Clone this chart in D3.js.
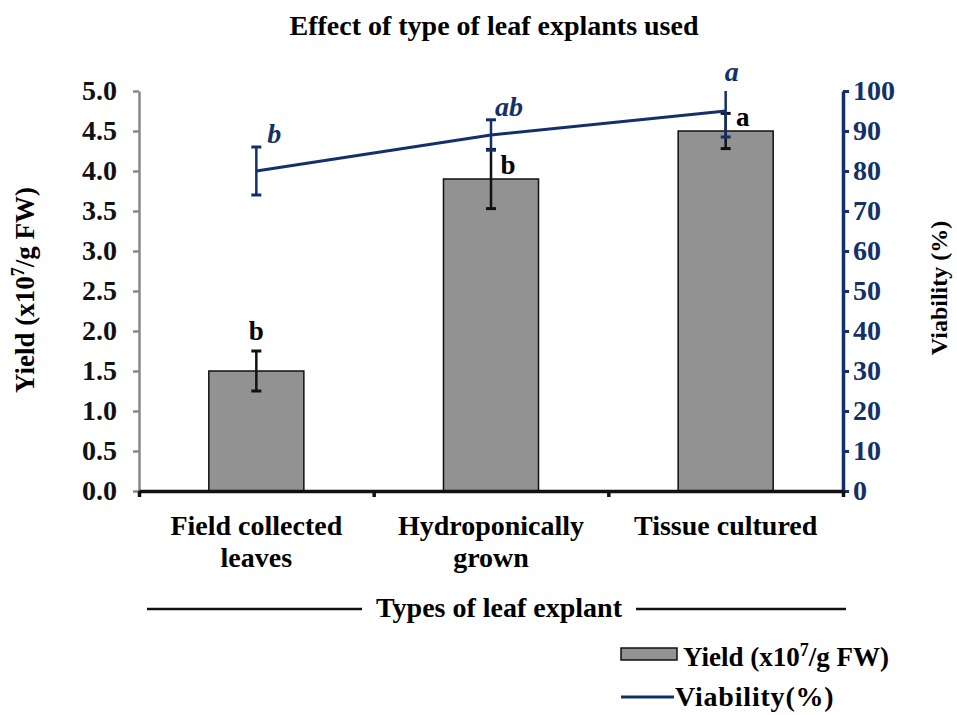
<!DOCTYPE html>
<html>
<head>
<meta charset="utf-8">
<script src="https://cdn.jsdelivr.net/npm/d3@7"></script>
<style>
  body { margin: 0; background: #fff; }
  svg text { font-family: "Liberation Serif", "Times New Roman", serif; font-weight: bold; }
</style>
</head>
<body>
<div id="chart"></div>
<script>
// data
var categories = [["Field collected", "leaves"], ["Hydroponically", "grown"], ["Tissue cultured"]];
var yieldValues = [1.5, 3.9, 4.5];
var yieldErrors = [0.25, 0.37, 0.22];
var yieldLetters = ["b", "b", "a"];
var viability = [80, 89, 95];
var viabilityErrors = [6, 3.8, 6.5];
var viabilityLetters = ["b", "ab", "a"];
var yieldTicks = [0, 0.5, 1, 1.5, 2, 2.5, 3, 3.5, 4, 4.5, 5];
var viabTicks = [0, 10, 20, 30, 40, 50, 60, 70, 80, 90, 100];

var width = 957, height = 715,
    margin = { top: 91, right: 114, bottom: 224, left: 139 },
    navy = "#13306a", barGrey = "#929292",
    serif = "'Liberation Serif', 'Times New Roman', serif";

var svg = d3.select("#chart").append("svg")
    .attr("width", width).attr("height", height)
    .attr("font-family", serif);

var x = d3.scaleBand()
    .domain(d3.range(categories.length))
    .range([margin.left, width - margin.right]);
var barW = x.bandwidth() * 0.405;

var y = d3.scaleLinear().domain([0, 5]).range([height - margin.bottom, margin.top]);
var yR = d3.scaleLinear().domain([0, 100]).range([height - margin.bottom, margin.top]);

// title
svg.append("text")
    .attr("x", 494).attr("y", 35)
    .attr("text-anchor", "middle")
    .style("font-size", "28px")
    .text("Effect of type of leaf explants used");

// bars
svg.selectAll("rect.bar").data(yieldValues).enter().append("rect")
    .attr("class", "bar")
    .attr("x", function(d, i) { return x(i) + x.bandwidth() / 2 - barW / 2; })
    .attr("y", function(d) { return y(d); })
    .attr("width", barW)
    .attr("height", function(d) { return y(0) - y(d); })
    .attr("fill", barGrey)
    .attr("stroke", "#111")
    .attr("stroke-width", 1.5);

// yield error bars
var eb = svg.selectAll("g.yerr").data(yieldValues).enter().append("g").attr("class", "yerr");
eb.append("line")
    .attr("x1", function(d, i) { return x(i) + x.bandwidth() / 2; })
    .attr("x2", function(d, i) { return x(i) + x.bandwidth() / 2; })
    .attr("y1", function(d, i) { return y(d - yieldErrors[i]); })
    .attr("y2", function(d, i) { return y(d + yieldErrors[i]); })
    .attr("stroke", "#111").attr("stroke-width", 2.5);
[-1, 1].forEach(function(s) {
    eb.append("line")
        .attr("x1", function(d, i) { return x(i) + x.bandwidth() / 2 - 5; })
        .attr("x2", function(d, i) { return x(i) + x.bandwidth() / 2 + 5; })
        .attr("y1", function(d, i) { return y(d + s * yieldErrors[i]); })
        .attr("y2", function(d, i) { return y(d + s * yieldErrors[i]); })
        .attr("stroke", "#111").attr("stroke-width", 3);
});

// bar letters
svg.selectAll("text.ylet").data(yieldValues).enter().append("text")
    .attr("class", "ylet")
    .attr("x", function(d, i) { return i == 0 ? x(i) + x.bandwidth() / 2 : x(i) + x.bandwidth() / 2 + 17; })
    .attr("y", function(d, i) { return i == 0 ? y(d + yieldErrors[i]) - 11 : y(d) - 5; })
    .attr("text-anchor", "middle")
    .style("font-size", "27px")
    .text(function(d, i) { return yieldLetters[i]; });

// viability line
var line = d3.line()
    .x(function(d, i) { return x(i) + x.bandwidth() / 2; })
    .y(function(d) { return yR(d); });
svg.append("path").datum(viability)
    .attr("d", line)
    .attr("fill", "none")
    .attr("stroke", navy)
    .attr("stroke-width", 3);

// viability error bars (clipped at axis max)
viability.forEach(function(v, i) {
    var cx = x(i) + x.bandwidth() / 2,
        lo = v - viabilityErrors[i],
        hi = Math.min(100, v + viabilityErrors[i]);
    svg.append("line")
        .attr("x1", cx).attr("x2", cx)
        .attr("y1", yR(lo)).attr("y2", yR(hi))
        .attr("stroke", navy).attr("stroke-width", 2.5);
    svg.append("line")
        .attr("x1", cx - 5).attr("x2", cx + 5)
        .attr("y1", yR(lo)).attr("y2", yR(lo))
        .attr("stroke", navy).attr("stroke-width", 3);
    if (v + viabilityErrors[i] <= 100) {
        svg.append("line")
            .attr("x1", cx - 5).attr("x2", cx + 5)
            .attr("y1", yR(hi)).attr("y2", yR(hi))
            .attr("stroke", navy).attr("stroke-width", 3);
    }
    svg.append("text")
        .attr("x", i == 2 ? cx + 6 : cx + 18)
        .attr("y", i == 2 ? yR(hi) - 10 : yR(v + viabilityErrors[i]) - 4)
        .attr("text-anchor", "middle")
        .attr("fill", navy)
        .style("font-size", "28px")
        .style("font-style", "italic")
        .text(viabilityLetters[i]);
});

// left axis
var gL = svg.append("g")
    .attr("transform", "translate(" + margin.left + ",0)")
    .call(d3.axisLeft(y).tickValues(yieldTicks).tickFormat(d3.format(".1f")).tickSize(6).tickSizeOuter(0).tickPadding(16));
gL.attr("font-family", serif);
gL.select(".domain").attr("stroke", "#888").attr("stroke-width", 2.5);
gL.selectAll(".tick line").attr("stroke", "#888").attr("stroke-width", 2.5);
gL.selectAll(".tick text").attr("fill", "#111").style("font-size", "28px");

// right axis
var gR = svg.append("g")
    .attr("transform", "translate(" + (width - margin.right) + ",0)")
    .call(d3.axisRight(yR).tickValues(viabTicks).tickSize(6).tickSizeOuter(0).tickPadding(4));
gR.attr("font-family", serif);
gR.select(".domain").attr("stroke", navy).attr("stroke-width", 3.5);
gR.selectAll(".tick line").attr("stroke", navy).attr("stroke-width", 3);
gR.selectAll(".tick text").attr("fill", navy).style("font-size", "28px");

// bottom axis with ticks at category boundaries
var xEdge = d3.scaleLinear().domain([0, categories.length]).range([margin.left, width - margin.right]);
var gB = svg.append("g")
    .attr("transform", "translate(0," + (height - margin.bottom) + ")")
    .call(d3.axisBottom(xEdge).tickValues(d3.range(categories.length + 1)).tickFormat("").tickSize(6).tickSizeOuter(0));
gB.select(".domain").attr("stroke", "#111").attr("stroke-width", 3.5);
gB.selectAll(".tick line").attr("stroke", "#111").attr("stroke-width", 3.5);

// category labels
categories.forEach(function(lines, i) {
    var t = svg.append("text")
        .attr("x", x(i) + x.bandwidth() / 2)
        .attr("y", 535)
        .attr("text-anchor", "middle")
        .style("font-size", "28px");
    lines.forEach(function(s, j) {
        t.append("tspan").attr("x", x(i) + x.bandwidth() / 2).attr("dy", j == 0 ? 0 : 32).text(s);
    });
});

// x axis title with side rules
svg.append("text")
    .attr("x", 499).attr("y", 617)
    .attr("text-anchor", "middle")
    .style("font-size", "28px")
    .text("Types of leaf explant");
svg.append("line").attr("x1", 147).attr("x2", 362).attr("y1", 609).attr("y2", 609)
    .attr("stroke", "#111").attr("stroke-width", 2.5);
svg.append("line").attr("x1", 636).attr("x2", 846).attr("y1", 609).attr("y2", 609)
    .attr("stroke", "#111").attr("stroke-width", 2.5);

// left y title
var yl = svg.append("text")
    .attr("transform", "translate(34,290) rotate(-90)")
    .attr("text-anchor", "middle")
    .style("font-size", "27px");
yl.append("tspan").text("Yield (x10");
yl.append("tspan").attr("dy", -10).style("font-size", "18px").text("7");
yl.append("tspan").attr("dy", 10).text("/g FW)");

// right y title
svg.append("text")
    .attr("transform", "translate(947,288) rotate(-90)")
    .attr("text-anchor", "middle")
    .style("font-size", "24px")
    .text("Viability (%)");

// legend
svg.append("rect").attr("x", 621).attr("y", 648).attr("width", 56).attr("height", 12)
    .attr("fill", barGrey).attr("stroke", "#111").attr("stroke-width", 1.5);
var lt = svg.append("text").attr("x", 683).attr("y", 666).style("font-size", "27px");
lt.append("tspan").text("Yield (x10");
lt.append("tspan").attr("dy", -10).style("font-size", "18px").text("7");
lt.append("tspan").attr("dy", 10).text("/g FW)");
svg.append("line").attr("x1", 621).attr("x2", 674).attr("y1", 697).attr("y2", 697)
    .attr("stroke", navy).attr("stroke-width", 3);
svg.append("text").attr("x", 675).attr("y", 706).style("font-size", "28px")
    .style("letter-spacing", "0.8px").text("Viability(%)");
</script>
</body>
</html>
